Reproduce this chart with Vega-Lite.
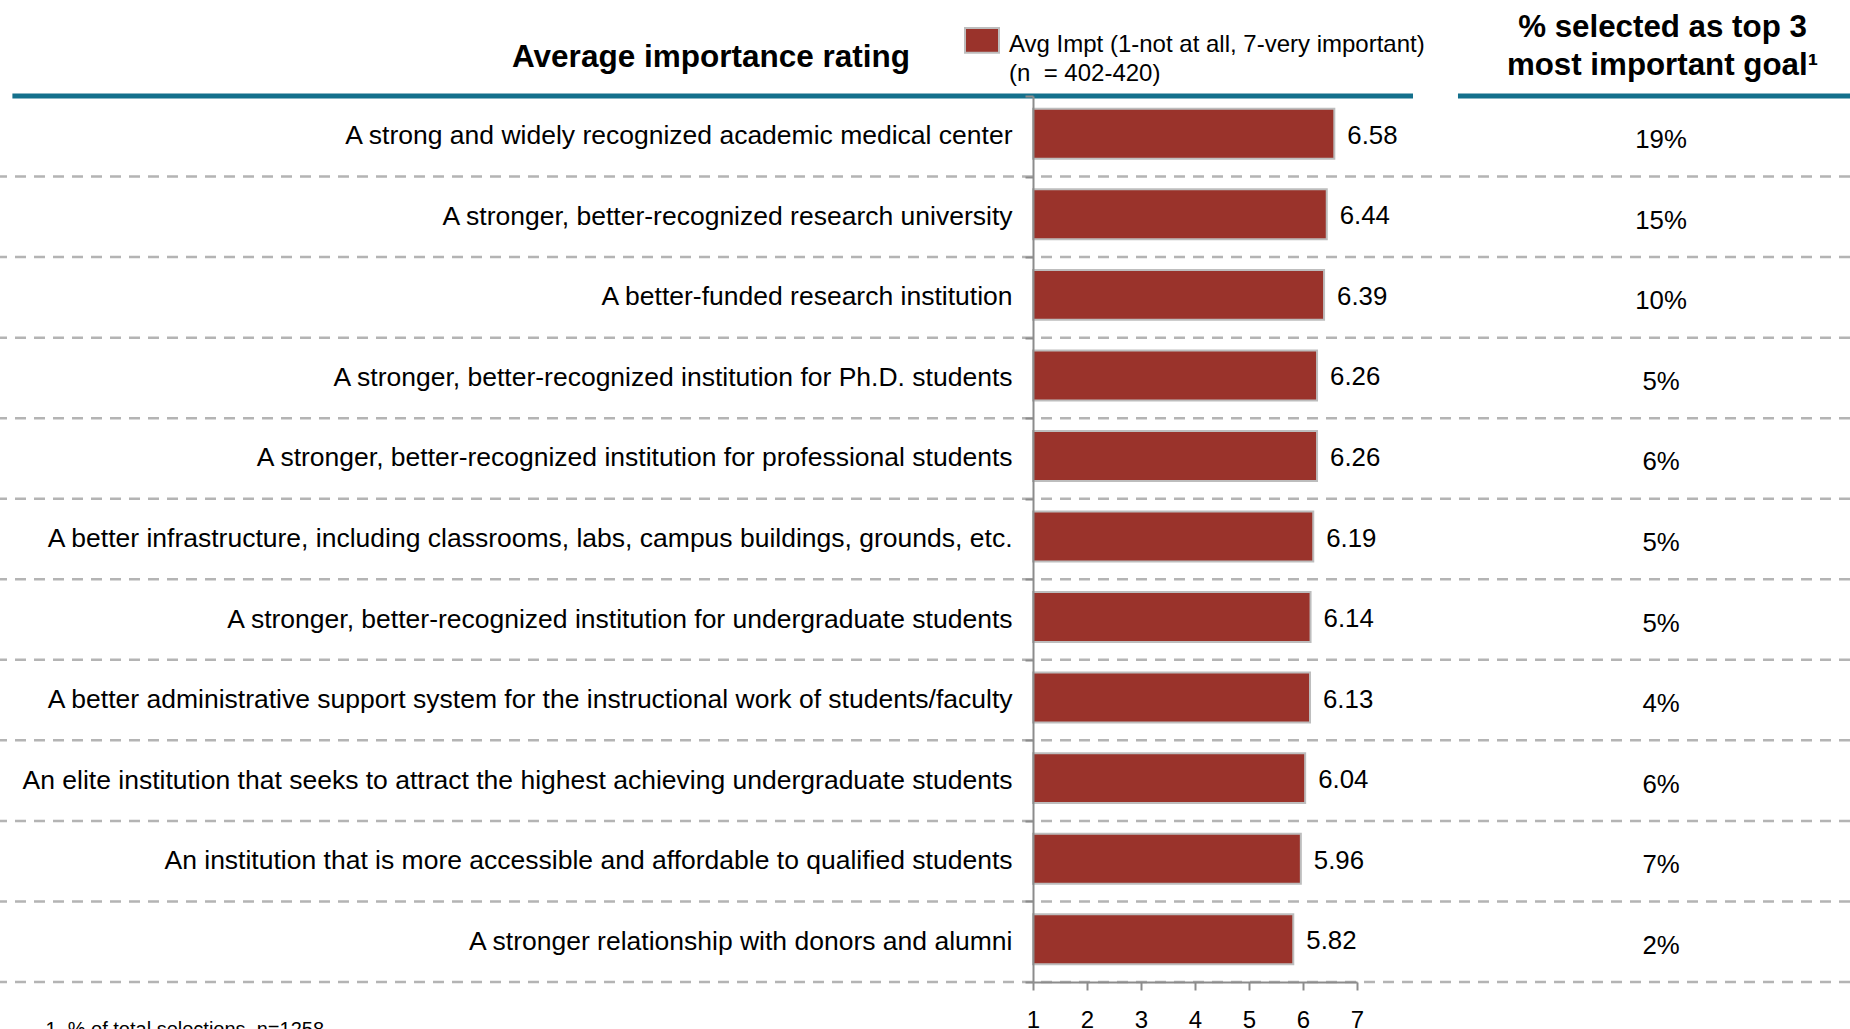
{
  "$schema": "https://vega.github.io/schema/vega-lite/v6.json",
  "width": 1850,
  "height": 886,
  "autosize": {"type": "none"},
  "padding": {"left": 0, "top": 96, "right": 0, "bottom": 47},
  "background": "white",
  "config": {"font": "Liberation Sans", "view": {"stroke": null}},
  "title": {
    "text": "Average importance rating",
    "anchor": "start",
    "frame": "group",
    "dx": 512,
    "dy": 62,
    "fontSize": 31.5,
    "fontWeight": "bold",
    "color": "#000000",
    "offset": 0
  },
  "data": {
    "values": [
      {"label": "A strong and widely recognized academic medical center", "avg": 6.58, "pct": 0.19},
      {"label": "A stronger, better-recognized research university", "avg": 6.44, "pct": 0.15},
      {"label": "A better-funded research institution", "avg": 6.39, "pct": 0.10},
      {"label": "A stronger, better-recognized institution for Ph.D. students", "avg": 6.26, "pct": 0.05},
      {"label": "A stronger, better-recognized institution for professional students", "avg": 6.26, "pct": 0.06},
      {"label": "A better infrastructure, including classrooms, labs, campus buildings, grounds, etc.", "avg": 6.19, "pct": 0.05},
      {"label": "A stronger, better-recognized institution for undergraduate students", "avg": 6.14, "pct": 0.05},
      {"label": "A better administrative support system for the instructional work of students/faculty", "avg": 6.13, "pct": 0.04},
      {"label": "An elite institution that seeks to attract the highest achieving undergraduate students", "avg": 6.04, "pct": 0.06},
      {"label": "An institution that is more accessible and affordable to qualified students", "avg": 5.96, "pct": 0.07},
      {"label": "A stronger relationship with donors and alumni", "avg": 5.82, "pct": 0.02}
    ]
  },
  "encoding": {
    "y": {
      "field": "label",
      "type": "nominal",
      "sort": null,
      "scale": {"paddingInner": 0, "paddingOuter": 0},
      "axis": {
        "offset": -1033,
        "zindex": 1,
        "domainColor": "#8c8c8c",
        "domainWidth": 2,
        "tickBand": "extent",
        "tickColor": "#8c8c8c",
        "tickWidth": 2,
        "tickSize": 8,
        "labelFontSize": 26.5,
        "labelColor": "#000000",
        "labelPadding": 13,
        "labelLimit": 1100,
        "labelOffset": -0.5,
        "grid": false,
        "title": ["% selected as top 3", "most important goal¹"],
        "titleFontSize": 31.3,
        "titleFontWeight": "bold",
        "titleColor": "#000000",
        "titleAngle": 0,
        "titleAlign": "center",
        "titleBaseline": "middle",
        "titleLineHeight": 38,
        "titleX": 629,
        "titleY": -69
      }
    }
  },
  "layer": [
    {
      "mark": {"type": "rule", "strokeDash": [11, 8], "color": "#b4b4b4", "strokeWidth": 2.5},
      "encoding": {
        "y": {"field": "label", "type": "nominal", "sort": null, "bandPosition": 1}
      }
    },
    {
      "transform": [{"filter": "datum.label === 'A strong and widely recognized academic medical center'"}],
      "mark": {"type": "rule", "color": "#14708c", "strokeWidth": 5},
      "encoding": {
        "y": {"field": "label", "type": "nominal", "sort": null, "bandPosition": 0},
        "x": {"datum": -17.9},
        "x2": {"datum": 8.037}
      }
    },
    {
      "transform": [{"filter": "datum.label === 'A strong and widely recognized academic medical center'"}],
      "mark": {"type": "rule", "color": "#14708c", "strokeWidth": 5},
      "encoding": {
        "y": {"field": "label", "type": "nominal", "sort": null, "bandPosition": 0},
        "x": {"datum": 8.87},
        "x2": {"datum": 16.13}
      }
    },
    {
      "mark": {"type": "bar", "height": {"band": 0.62}, "yOffset": -2.5, "stroke": "#bdbdbd", "strokeWidth": 2},
      "encoding": {
        "x": {
          "field": "avg",
          "type": "quantitative",
          "scale": {"domain": [1, 7], "range": [1033, 1357], "zero": false, "nice": false},
          "axis": {
            "values": [1, 2, 3, 4, 5, 6, 7],
            "format": "d",
            "labelFlush": false,
            "labelOverlap": false,
            "zindex": 1,
            "grid": false,
            "domainColor": "#8c8c8c",
            "domainWidth": 2,
            "tickColor": "#8c8c8c",
            "tickWidth": 2,
            "tickSize": 8,
            "labelFontSize": 24,
            "labelColor": "#000000",
            "labelPadding": 18,
            "labelBaseline": "top",
            "title": "1. % of total selections, n=1258",
            "titleFontSize": 20,
            "titleFontWeight": "normal",
            "titleColor": "#000000",
            "titleX": 45,
            "titleY": 37,
            "titleAlign": "left",
            "titleBaseline": "top"
          }
        },
        "x2": {"datum": 1},
        "color": {
          "datum": "Avg Impt (1-not at all, 7-very important)",
          "type": "nominal",
          "scale": {"range": ["#9a332b"]},
          "legend": {
            "orient": "none",
            "legendX": 964,
            "legendY": -69.5,
            "title": null,
            "symbolType": "M-1,-0.97H1V0.49H-1Z",
            "symbolSize": 1156,
            "symbolStrokeColor": "#bdbdbd",
            "symbolStrokeWidth": 2,
            "symbolOpacity": 1,
            "labelFontSize": 24,
            "labelColor": "#000000",
            "labelOffset": 9,
            "labelLimit": 600,
            "labelExpr": "['Avg Impt (1-not at all, 7-very important)', '(n\u00a0 = 402-420)']",
            "encode": {"labels": {"update": {"lineHeight": {"value": 29.5}}}}
          }
        }
      }
    },
    {
      "mark": {"type": "text", "align": "left", "baseline": "middle", "dx": 13, "dy": -0.5, "fontSize": 25.8, "color": "#000000"},
      "encoding": {
        "x": {"field": "avg", "type": "quantitative"},
        "text": {"field": "avg", "type": "quantitative", "format": ".2f"}
      }
    },
    {
      "mark": {"type": "text", "align": "center", "baseline": "middle", "dy": 4, "fontSize": 25.8, "color": "#000000"},
      "encoding": {
        "x": {"datum": 12.63},
        "text": {"field": "pct", "type": "quantitative", "format": ".0%"}
      }
    }
  ]
}
